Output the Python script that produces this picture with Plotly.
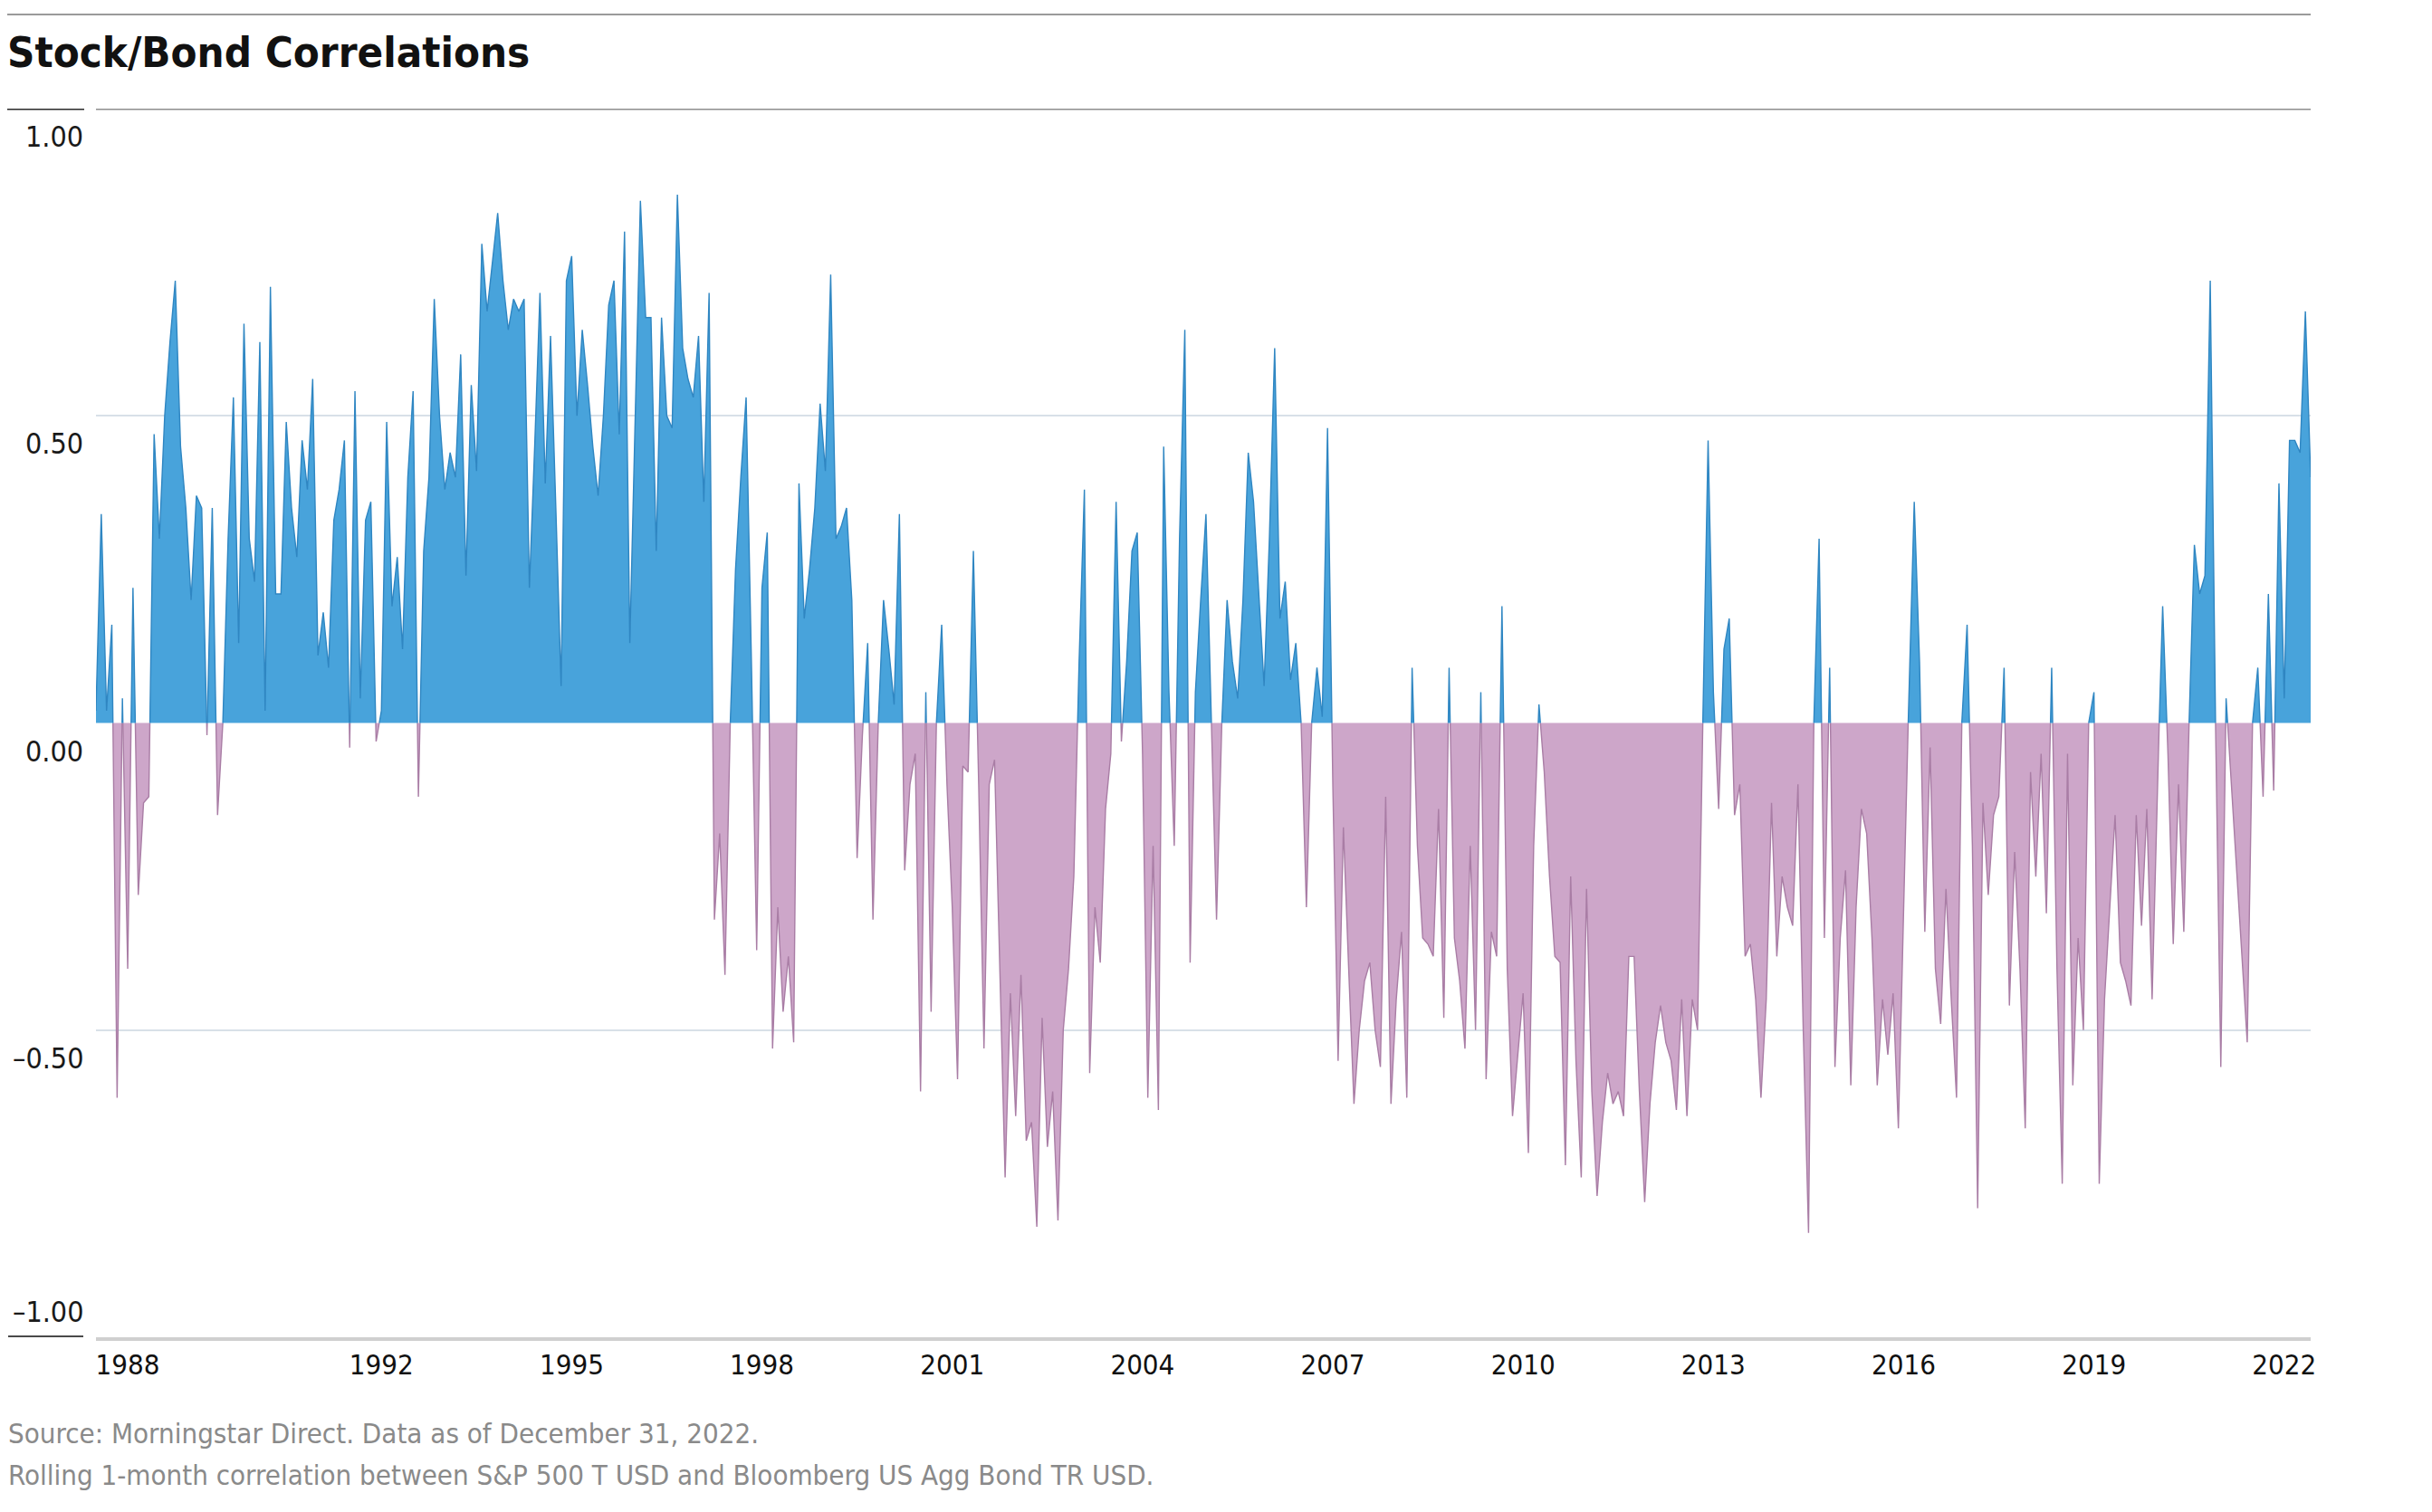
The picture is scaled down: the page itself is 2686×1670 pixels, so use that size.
import plotly.graph_objects as go

# ---------------- data ----------------
START_YEAR = 1988  # first month: January 1988, monthly through December 2022

corr = [
    # 1988
    0.02, 0.34, 0.02, 0.16, -0.61, 0.04, -0.40, 0.22, -0.28, -0.13, -0.12, 0.47,
    # 1989
    0.30, 0.50, 0.62, 0.72, 0.45, 0.35, 0.20, 0.37, 0.35, -0.02, 0.35, -0.15,
    # 1990
    0.00, 0.30, 0.53, 0.13, 0.65, 0.30, 0.23, 0.62, 0.02, 0.71, 0.21, 0.21,
    # 1991
    0.49, 0.35, 0.27, 0.46, 0.38, 0.56, 0.11, 0.18, 0.09, 0.33, 0.38, 0.46,
    # 1992
    -0.04, 0.54, 0.04, 0.33, 0.36, -0.03, 0.02, 0.49, 0.19, 0.27, 0.12, 0.40,
    # 1993
    0.54, -0.12, 0.28, 0.40, 0.69, 0.50, 0.38, 0.44, 0.40, 0.60, 0.24, 0.55,
    # 1994
    0.41, 0.78, 0.67, 0.75, 0.83, 0.72, 0.64, 0.69, 0.67, 0.69, 0.22, 0.45,
    # 1995
    0.70, 0.39, 0.63, 0.35, 0.06, 0.72, 0.76, 0.50, 0.64, 0.55, 0.45, 0.37,
    # 1996
    0.50, 0.68, 0.72, 0.47, 0.80, 0.13, 0.50, 0.85, 0.66, 0.66, 0.28, 0.66,
    # 1997
    0.50, 0.48, 0.86, 0.61, 0.56, 0.53, 0.63, 0.36, 0.70, -0.32, -0.18, -0.41,
    # 1998
    0.00, 0.25, 0.40, 0.53, 0.10, -0.37, 0.22, 0.31, -0.53, -0.30, -0.47, -0.38,
    # 1999
    -0.52, 0.39, 0.17, 0.25, 0.35, 0.52, 0.41, 0.73, 0.30, 0.32, 0.35, 0.20,
    # 2000
    -0.22, -0.02, 0.13, -0.32, 0.00, 0.20, 0.12, 0.03, 0.34, -0.24, -0.10, -0.05,
    # 2001
    -0.60, 0.05, -0.47, 0.00, 0.16, -0.10, -0.30, -0.58, -0.07, -0.08, 0.28, -0.10,
    # 2002
    -0.53, -0.10, -0.06, -0.40, -0.74, -0.44, -0.64, -0.41, -0.68, -0.65, -0.82, -0.48,
    # 2003
    -0.69, -0.60, -0.81, -0.50, -0.40, -0.25, 0.10, 0.38, -0.57, -0.30, -0.39, -0.14,
    # 2004
    -0.05, 0.36, -0.03, 0.10, 0.28, 0.31, -0.05, -0.61, -0.20, -0.63, 0.45, 0.05,
    # 2005
    -0.20, 0.30, 0.64, -0.39, 0.05, 0.20, 0.34, 0.01, -0.32, 0.00, 0.20, 0.10,
    # 2006
    0.04, 0.20, 0.44, 0.36, 0.21, 0.06, 0.30, 0.61, 0.17, 0.23, 0.07, 0.13,
    # 2007
    0.00, -0.30, 0.00, 0.09, 0.01, 0.48, -0.10, -0.55, -0.17, -0.40, -0.62, -0.50,
    # 2008
    -0.42, -0.39, -0.50, -0.56, -0.12, -0.62, -0.45, -0.34, -0.61, 0.09, -0.20, -0.35,
    # 2009
    -0.36, -0.38, -0.14, -0.48, 0.09, -0.35, -0.42, -0.53, -0.20, -0.50, 0.05, -0.58,
    # 2010
    -0.34, -0.38, 0.19, -0.40, -0.64, -0.54, -0.44, -0.70, -0.20, 0.03, -0.08, -0.25,
    # 2011
    -0.38, -0.39, -0.72, -0.25, -0.55, -0.74, -0.27, -0.60, -0.77, -0.65, -0.57, -0.62,
    # 2012
    -0.60, -0.64, -0.38, -0.38, -0.60, -0.78, -0.62, -0.52, -0.46, -0.52, -0.55, -0.63,
    # 2013
    -0.45, -0.64, -0.45, -0.50, 0.00, 0.46, 0.05, -0.14, 0.12, 0.17, -0.15, -0.10,
    # 2014
    -0.38, -0.36, -0.45, -0.61, -0.45, -0.13, -0.38, -0.25, -0.30, -0.33, -0.10, -0.50,
    # 2015
    -0.83, 0.00, 0.30, -0.35, 0.09, -0.56, -0.35, -0.24, -0.59, -0.30, -0.14, -0.18,
    # 2016
    -0.35, -0.59, -0.45, -0.54, -0.44, -0.66, -0.30, 0.05, 0.36, 0.10, -0.34, -0.04,
    # 2017
    -0.40, -0.49, -0.27, -0.45, -0.61, 0.00, 0.16, -0.20, -0.79, -0.13, -0.28, -0.15,
    # 2018
    -0.12, 0.09, -0.46, -0.21, -0.40, -0.66, -0.08, -0.25, -0.05, -0.31, 0.09, -0.40,
    # 2019
    -0.75, -0.05, -0.59, -0.35, -0.50, 0.00, 0.05, -0.75, -0.45, -0.30, -0.15, -0.39,
    # 2020
    -0.42, -0.46, -0.15, -0.33, -0.14, -0.45, -0.10, 0.19, -0.05, -0.36, -0.10, -0.34,
    # 2021
    0.00, 0.29, 0.21, 0.24, 0.72, 0.00, -0.56, 0.04, -0.10, -0.25, -0.38, -0.52,
    # 2022
    0.00, 0.09, -0.12, 0.21, -0.11, 0.39, 0.04, 0.46, 0.46, 0.44, 0.67, 0.40,
]

tick_years = [1988, 1992, 1995, 1998, 2001, 2004, 2007, 2010, 2013, 2016, 2019, 2022]
y_tick_values = [1.0, 0.5, 0.0, -0.5, -1.0]
y_tick_labels = ["1.00", "0.50", "0.00", "\u20130.50", "\u20131.00"]

TITLE = "Stock/Bond Correlations"
NOTES = [
    "Source: Morningstar Direct. Data as of December 31, 2022.",
    "Rolling 1-month correlation between S&P 500 T USD and Bloomberg US Agg Bond TR USD.",
]

# ---------------- styling ----------------
OFF = 8                                   # page body margin of the html file
W, H = 2686 - 2 * OFF, 1670 - 2 * OFF
# plot area in page pixels -> figure pixels
L, R, T, B = 106 - OFF, 2552 - OFF, 120 - OFF, 1477 - OFF
FONT = "Liberation Sans Narrow, DejaVu Sans Condensed, Arial Narrow, Roboto, sans-serif"
BLUE_FILL, BLUE_LINE = "#48a3db", "#2f86c2"
PINK_FILL, PINK_LINE = "#cda6c9", "#a97da5"


def px_x(px):
    """page x pixel -> paper x"""
    return (px - OFF - L) / (R - L)


def px_y(py):
    """page y pixel -> paper y"""
    return (B - (py - OFF)) / (B - T)


# ---------------- build positive / negative areas ----------------
x = [START_YEAR + i / 12 for i in range(len(corr))]
ax, av = [], []
for i, v in enumerate(corr):
    if i > 0:
        p = corr[i - 1]
        if p * v < 0:
            xc = x[i - 1] + (x[i] - x[i - 1]) * p / (p - v)
            ax.append(xc)
            av.append(0.0)
    ax.append(x[i])
    av.append(v)

pos = [v if v >= 0 else None for v in av]
neg = [v if v <= 0 else None for v in av]

fig = go.Figure()
fig.add_trace(go.Scatter(
    x=ax, y=neg, mode="lines", fill="tozeroy", fillcolor=PINK_FILL,
    line=dict(color=PINK_LINE, width=1.4), connectgaps=False, hoverinfo="skip",
    showlegend=False))
fig.add_trace(go.Scatter(
    x=ax, y=pos, mode="lines", fill="tozeroy", fillcolor=BLUE_FILL,
    line=dict(color=BLUE_LINE, width=1.4), connectgaps=False, hoverinfo="skip",
    showlegend=False))

# ---------------- axes ----------------
fig.update_xaxes(
    range=[x[0], x[-1]],
    tickvals=[yr + 0.5 for yr in tick_years],
    ticktext=[str(yr) for yr in tick_years],
    ticks="", showgrid=False, zeroline=False, automargin=False,
    showline=True, linecolor="#cfcfcf", linewidth=4,
    tickfont=dict(family=FONT, size=31, color="#111111"),
)
fig.update_yaxes(
    range=[-1, 1], tickvals=[0.5, -0.5], showticklabels=False, automargin=False,
    showgrid=True, gridcolor="#d8e0e8", gridwidth=2, zeroline=False,
)

shapes = [
    # top rule above title
    dict(type="line", xref="paper", yref="paper", x0=px_x(2), x1=1, y0=px_y(16), y1=px_y(16),
         line=dict(color="#9a9a9a", width=2)),
    # 1.00 line
    dict(type="line", xref="paper", yref="y", x0=0, x1=1, y0=1, y1=1,
         line=dict(color="#8e8e8e", width=3)),
    # short dark segments near the 1.00 and -1.00 labels
    dict(type="line", xref="paper", yref="y", x0=px_x(8), x1=px_x(93), y0=1, y1=1,
         line=dict(color="#2a2a2a", width=3)),
    dict(type="line", xref="paper", yref="y", x0=px_x(9), x1=px_x(92), y0=-1, y1=-1,
         line=dict(color="#4a4a4a", width=4)),
]

annotations = []
for val, lab in zip(y_tick_values, y_tick_labels):
    annotations.append(dict(
        xref="paper", yref="y", x=px_x(94), y=val, xanchor="right", yanchor="middle",
        yshift=(28 if val == -1.0 else -31), text=lab, showarrow=False,
        font=dict(family=FONT, size=32, color="#1a1a1a")))

for k, note in enumerate(NOTES):
    annotations.append(dict(
        xref="paper", yref="paper", x=px_x(7), y=px_y(1583 + 46 * k), xanchor="left",
        yanchor="middle", text=note, showarrow=False,
        font=dict(family=FONT, size=31, color="#8a8a8a")))

fig.update_layout(
    width=W, height=H,
    margin=dict(l=L, r=W - R, t=T, b=H - B, autoexpand=False),
    paper_bgcolor="white", plot_bgcolor="white",
    title=dict(text="<b>" + TITLE + "</b>", x=0, xanchor="left", xref="container",
               y=1 - (58 - OFF) / H, yanchor="middle", yref="container",
               font=dict(family=FONT, size=47, color="#111111")),
    shapes=shapes, annotations=annotations,
)

fig.write_html("out.html")
